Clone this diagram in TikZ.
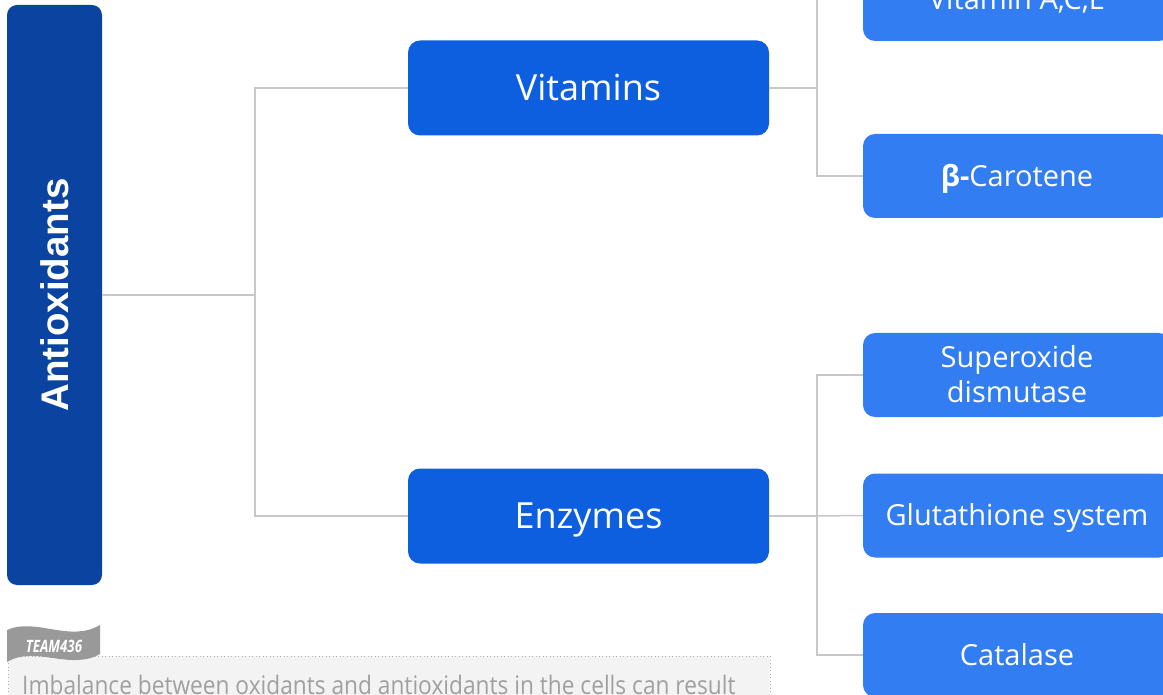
\documentclass[tikz,border=0pt]{standalone}
\usepackage{fontspec}
\setmainfont{Open Sans}
\newfontfamily\boldsans{Liberation Sans}
\newfontfamily\narrowsans[FakeStretch=0.89]{Open Sans}
\newfontfamily\flagfont[FakeStretch=0.78]{Open Sans}
\definecolor{darkblue}{HTML}{0B44A0}
\definecolor{midblue}{HTML}{0D5FDF}
\definecolor{lightblue}{HTML}{337DF2}
\definecolor{linegray}{HTML}{C8C8C8}
\definecolor{notegray}{HTML}{A0A0A0}
\definecolor{notefill}{HTML}{F3F3F3}
\definecolor{flaggray}{HTML}{999999}
\definecolor{dotgray}{HTML}{B4B4B4}
\tikzset{
  rootbox/.style={fill=darkblue, rounded corners=10pt, minimum width=95pt, minimum height=580pt, inner sep=0pt},
  midbox/.style={fill=midblue, rounded corners=12pt, minimum width=361pt, minimum height=95pt, inner sep=0pt, text=white, text height=25.7pt, text depth=0pt, font=\fontsize{36}{40}\selectfont},
  leafbox/.style={fill=lightblue, rounded corners=12pt, minimum width=308pt, minimum height=84pt, inner sep=0pt, text=white, align=center, text height=20.7pt, text depth=0pt, font=\fontsize{29}{35}\selectfont},
  conn/.style={draw=linegray, line width=1.5pt}
}
\begin{document}
\begin{tikzpicture}[x=1pt,y=-1pt]
\useasboundingbox (0,0) rectangle (1163,695);
\clip (0,0) rectangle (1163,695);
% root
\node[rootbox] (root) at (54.5,295) {};
\node[rotate=90, text=white, font=\boldsans\bfseries\fontsize{38.5}{42}\selectfont] (roottext) at (root.center) {Antioxidants};
% middle
\node[midbox] (vit) at (588.5,88) {Vitamins};
\node[midbox] (enz) at (588.5,516) {Enzymes};
% leaves
\node[leafbox] (vace) at (1017,-1) {Vitamin A,C,E};
\node[leafbox] (beta) at (1017,176) {\textbf{β-}Carotene};
\node[leafbox, text height=55.7pt, text depth=0pt] (sod) at (1017,375) {Superoxide\\dismutase};
\node[leafbox] (glu) at (1017,515.5) {Glutathione system};
\node[leafbox] (cat) at (1017,655) {Catalase};
% connectors
\coordinate (j1) at (255,295);
\coordinate (j2) at (817,88);
\coordinate (j3) at (817,516);
\draw[conn] (root.east |- j1) -- (j1);
\draw[conn] (vit.west) -| (j1) |- (enz.west);
\draw[conn] (vit.east) -- (j2);
\draw[conn] (vace.west) -| (j2) |- (beta.west);
\draw[conn] (enz.east) -- (j3);
\draw[conn] (sod.west) -| (j3) |- (cat.west);
\draw[conn] (j3) -- (glu.west);
% note box
\fill[notefill] (8,656) rectangle (770,720);
\draw[draw=dotgray, line width=1pt, dash pattern=on 1pt off 2.5pt] (8,720) -- (8,656) -- (770,656) -- (770,720);
\node[anchor=base west, text=notegray, font=\narrowsans\fontsize{25.5}{30}\selectfont, inner sep=0pt] (note) at (22,694) {Imbalance between oxidants and antioxidants in the cells can result};
% flag
\fill[flaggray] (7,630) .. controls (35,617) and (70,643) .. (100,625) -- (100,654) .. controls (70,671) and (35,645) .. (7,662) -- cycle;
\node[text=white, font=\flagfont\bfseries\itshape\fontsize{17}{20}\selectfont] (flag) at (54,646) {TEAM436};
\end{tikzpicture}
\end{document}
